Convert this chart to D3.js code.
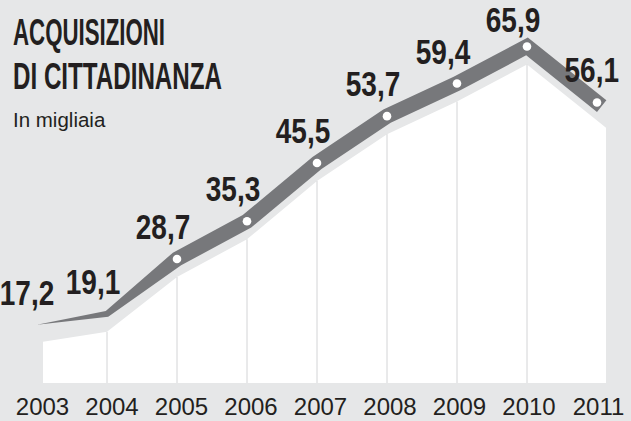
<!DOCTYPE html>
<html>
<head>
<meta charset="utf-8">
<script src="https://cdn.jsdelivr.net/npm/d3@7"></script>
<style>
  html, body { margin: 0; padding: 0; background: #e6e7e8; }
  svg { display: block; }
</style>
</head>
<body>
<div id="chart"></div>
<script>
var years = [2003, 2004, 2005, 2006, 2007, 2008, 2009, 2010, 2011];
var values = [17.2, 19.1, 28.7, 35.3, 45.5, 53.7, 59.4, 65.9, 56.1];
var valueLabels = ['17,2', '19,1', '28,7', '35,3', '45,5', '53,7', '59,4', '65,9', '56,1'];
var titleLines = ['ACQUISIZIONI', 'DI CITTADINANZA'];
var subtitle = 'In migliaia';

var width = 631, height = 421;
var bottom = 383;       // base of the white area
var shadowOffset = 18;  // white area sits below the band
var handFont = '"Liberation Sans Narrow", "Arial Narrow", sans-serif';

var svg = d3.select('#chart').append('svg')
  .attr('width', width)
  .attr('height', height);

svg.append('rect')
  .attr('width', width)
  .attr('height', height)
  .attr('fill', '#e6e7e8');

var x = d3.scaleLinear().domain([2003, 2011]).range([37, 597]);
var y = d3.scaleLinear().domain([0, 70]).range([423, 23]);

var pts = years.map(function (yr, i) { return [x(yr), y(values[i])]; });
var last = pts.length - 1;

// White area under the line
svg.append('clipPath').attr('id', 'clip-white')
  .append('rect').attr('x', 43).attr('y', 0).attr('width', 563).attr('height', height);

var slopeEnd = (pts[last][1] - pts[last - 1][1]) / (pts[last][0] - pts[last - 1][0]);
var whiteTop = pts.map(function (p) { return [p[0], p[1] + shadowOffset]; });
whiteTop.push([606, pts[last][1] + shadowOffset + slopeEnd * (606 - pts[last][0])]);

svg.append('path')
  .attr('clip-path', 'url(#clip-white)')
  .attr('fill', '#ffffff')
  .attr('d', d3.area()
    .x(function (d) { return d[0]; })
    .y0(bottom)
    .y1(function (d) { return d[1]; })(whiteTop));

// Light vertical separators
svg.append('g').selectAll('line')
  .data(years.slice(1, -1))
  .enter()
  .append('line')
    .attr('x1', function (d) { return x(d); })
    .attr('x2', function (d) { return x(d); })
    .attr('y1', function (d, i) { return y(values[i + 1]) + shadowOffset; })
    .attr('y2', bottom)
    .attr('stroke', '#d3d4d6')
    .attr('stroke-width', 1);

// Band: tapered at the start, mitred at the joints
function halfWidth(i) { return i === 0 ? 0 : (i === 1 ? 3 : 7.5); }

function unitNormal(a, b) {
  var dx = b[0] - a[0], dy = b[1] - a[1], l = Math.hypot(dx, dy);
  return [-dy / l, dx / l];
}

var bandPts = pts.map(function (p) { return p.slice(); });
var dEnd = [pts[last][0] - pts[last - 1][0], pts[last][1] - pts[last - 1][1]];
var dLen = Math.hypot(dEnd[0], dEnd[1]);
bandPts[last] = [pts[last][0] + dEnd[0] / dLen * 6, pts[last][1] + dEnd[1] / dLen * 6];

function side(sign) {
  return bandPts.map(function (p, i) {
    var n1 = i > 0 ? unitNormal(bandPts[i - 1], p) : unitNormal(p, bandPts[i + 1]);
    var n2 = i < last ? unitNormal(p, bandPts[i + 1]) : n1;
    var mx = n1[0] + n2[0], my = n1[1] + n2[1], ml = Math.hypot(mx, my);
    mx /= ml; my /= ml;
    var k = halfWidth(i) / (mx * n1[0] + my * n1[1]);
    return [p[0] + sign * mx * k, p[1] + sign * my * k];
  });
}

var band = side(-1).concat(side(1).reverse());
svg.append('path')
  .attr('d', d3.line()(band) + 'Z')
  .attr('fill', '#77787b');

// Dots
svg.append('g').selectAll('circle')
  .data(years.slice(2))
  .enter()
  .append('circle')
    .attr('cx', function (d) { return x(d); })
    .attr('cy', function (d, i) { return y(values[i + 2]); })
    .attr('r', 4.3)
    .attr('fill', '#ffffff');

// Value labels (squeezed to look like narrow handwriting)
function labelDx(i) { return i === last ? 22 : (i === 0 ? -10 : -14); }

svg.append('g').selectAll('text')
  .data(valueLabels)
  .enter()
  .append('text')
    .attr('x', function (d, i) { return x(years[i]) + labelDx(i); })
    .attr('y', function (d, i) { return y(values[i]) + (i === 7 ? -14 : -20); })
    .attr('text-anchor', function (d, i) { return i === last ? 'end' : 'middle'; })
    .attr('font-family', handFont)
    .attr('font-weight', 'bold')
    .attr('font-size', 35)
    .attr('fill', '#231f20')
    .text(function (d) { return d; })
    .each(function () {
      d3.select(this)
        .attr('textLength', this.getComputedTextLength() * 0.8)
        .attr('lengthAdjust', 'spacingAndGlyphs');
    });

// Year axis
var xl = d3.scalePoint().domain(years).range([42, 598]);
var axis = svg.append('g')
  .attr('transform', 'translate(0,398)')
  .call(d3.axisBottom(xl).tickSize(0).tickPadding(0));
axis.select('.domain').remove();
axis.selectAll('text')
  .attr('font-family', '"Liberation Sans", Arial, sans-serif')
  .attr('font-size', 24)
  .attr('fill', '#231f20');

// Title and subtitle
svg.append('g').selectAll('text')
  .data(titleLines)
  .enter()
  .append('text')
    .attr('x', 13)
    .attr('y', function (d, i) { return 45 + i * 44; })
    .attr('font-family', handFont)
    .attr('font-weight', 'bold')
    .attr('font-size', 37)
    .attr('textLength', function (d, i) { return i === 0 ? 152 : 209; })
    .attr('lengthAdjust', 'spacingAndGlyphs')
    .attr('fill', '#231f20')
    .text(function (d) { return d; });

svg.append('text')
  .attr('x', 13)
  .attr('y', 127)
  .attr('font-family', '"Liberation Sans", Arial, sans-serif')
  .attr('font-size', 20.5)
  .attr('fill', '#231f20')
  .text(subtitle);
</script>
</body>
</html>
